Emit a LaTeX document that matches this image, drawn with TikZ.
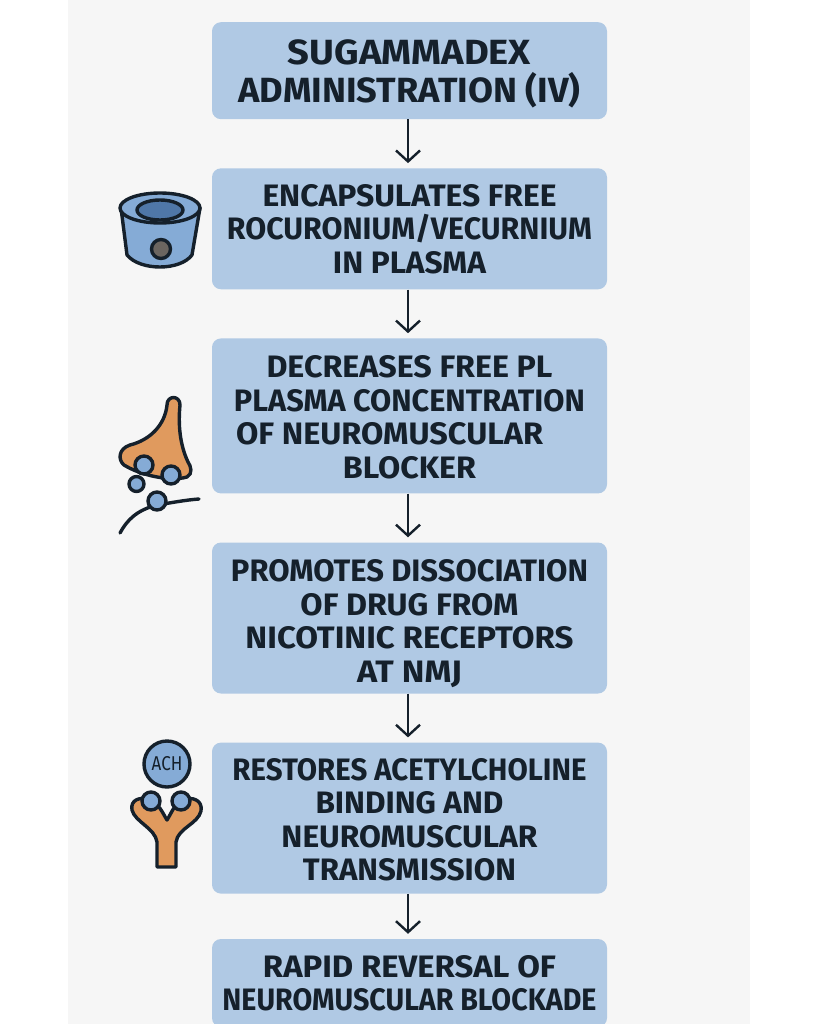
\documentclass[tikz,border=0pt]{standalone}
\usepackage{fontspec}
\setmainfont{Fira Sans}
\usetikzlibrary{positioning,arrows.meta}

\definecolor{panelgray}{HTML}{F6F6F6}
\definecolor{boxblue}{HTML}{B0C9E4}
\definecolor{inkdark}{HTML}{15202B}
\definecolor{iconblue}{HTML}{85ABD6}
\definecolor{deepblue}{HTML}{4F77A8}
\definecolor{iconorange}{HTML}{E09A5E}
\definecolor{pitgray}{HTML}{6B6560}

\newcommand{\stepline}[2]{\resizebox{#1pt}{\height}{#2}}

\begin{document}
\begin{tikzpicture}[x=1pt,y=-1pt]
      \tikzset{
        node distance=48.7pt,
        stepbox/.style={rectangle,rounded corners=9pt,fill=boxblue,text=inkdark,
          minimum width=395pt,inner sep=0pt,align=center,
          font=\fontsize{31}{33.5}\selectfont\bfseries},
        flow/.style={draw=inkdark,line width=2.4pt,shorten >=5pt,
          -{Straight Barb[length=11pt,width=24pt,line width=2.4pt]}},
        icon/.style={draw=inkdark,line width=3.4pt,line join=round,line cap=round}
      }

      \useasboundingbox (0,0) rectangle (819,1024);
      \clip (0,0) rectangle (819,1024);
      \fill[white] (0,0) rectangle (819,1024);
      \fill[panelgray] (68,0) rectangle (750,1024);

      \node[stepbox,minimum height=97pt,anchor=north,font=\fontsize{35}{38}\selectfont\bfseries] (admin) at (409.5,22)
        {\rule{0pt}{31pt}\stepline{243}{SUGAMMADEX}\\\stepline{342}{ADMINISTRATION (IV)}};
      \node[stepbox,minimum height=121pt,below=of admin] (encaps)
        {\stepline{294}{ENCAPSULATES FREE}\\\stepline{365}{ROCURONIUM/VECURNIUM}\\\stepline{153}{IN PLASMA}};
      \node[stepbox,minimum height=155pt,below=of encaps] (plasma)
        {\rule{0pt}{25pt}\stepline{286}{DECREASES FREE PL}\\\stepline{351}{PLASMA CONCENTRATION}\\\stepline{307}{OF NEUROMUSCULAR}\hspace*{40pt}\mbox{}\\\stepline{133}{BLOCKER}};
      \node[stepbox,minimum height=151pt,below=of plasma] (dissoc)
        {\rule{0pt}{33pt}\stepline{357}{PROMOTES DISSOCIATION}\\\stepline{218}{OF DRUG FROM}\\\stepline{328}{NICOTINIC RECEPTORS}\\\stepline{105}{AT NMJ}};
      \node[stepbox,minimum height=151pt,below=of dissoc] (restore)
        {\rule{0pt}{25pt}\stepline{354}{RESTORES ACETYLCHOLINE}\\\stepline{188}{BINDING AND}\\\stepline{256}{NEUROMUSCULAR}\\\stepline{213}{TRANSMISSION}};
      \node[stepbox,minimum height=88pt,below=45pt of restore] (reversal)
        {\stepline{293}{RAPID REVERSAL OF}\\\stepline{374}{NEUROMUSCULAR BLOCKADE}};

      \draw[flow] ([xshift=-1.5pt]admin.south) -- ([xshift=-1.5pt]encaps.north);
      \draw[flow] ([xshift=-1.5pt]encaps.south) -- ([xshift=-1.5pt]plasma.north);
      \draw[flow] ([xshift=-1.5pt]plasma.south) -- ([xshift=-1.5pt]dissoc.north);
      \draw[flow] ([xshift=-1.5pt]dissoc.south) -- ([xshift=-1.5pt]restore.north);
      \draw[flow] ([xshift=-1.5pt]restore.south) -- ([xshift=-1.5pt]reversal.north);

      % cyclodextrin
      \draw[icon,fill=iconblue] (121,208) -- (127,255) .. controls (140,271) and (180,271) .. (192,255) -- (200,208) -- cycle;
      \draw[icon,fill=iconblue] (160,208) ellipse (40pt and 15pt);
      \draw[icon,fill=deepblue] (160,210) ellipse (23pt and 10pt);
      \draw[icon,fill=pitgray] (161,249) circle (9.5pt);

      % blocker on the receptor
      \draw[icon,fill=iconorange] (180,405) .. controls (180,395) and (167,395) .. (167,405)
        .. controls (165,425) and (150,440) .. (130,445)
        .. controls (118,449) and (118,460) .. (124,465)
        .. controls (140,475) and (170,482) .. (187,477)
        .. controls (193,474) and (191,466) .. (188,462)
        .. controls (180,445) and (178,425) .. (180,405) -- cycle;
      \draw[icon,fill=iconblue] (144,465) circle (9pt);
      \draw[icon,fill=iconblue] (171,475) circle (9pt);
      \draw[icon,fill=iconblue] (136.5,484) circle (7.5pt);
      \draw[icon] (120,533) .. controls (127,520) and (137,510) .. (157,505) .. controls (170,503) and (185,500) .. (199,499);
      \draw[icon,fill=iconblue] (157,501) circle (9pt);

      % acetylcholine and receptor
      \node[circle,icon,fill=iconblue,minimum size=46pt,inner sep=0pt,text=inkdark] (ach) at (167,764)
        {\fontsize{20}{20}\selectfont\scalebox{.85}[1]{ACH}};
      \draw[icon,fill=iconorange] (157,867) -- (157,842)
        .. controls (155,828) and (135,822) .. (132,810)
        .. controls (130,800) and (140,796) .. (150,800)
        .. controls (160,805) and (162,812) .. (167,820)
        .. controls (172,812) and (174,805) .. (182,800)
        .. controls (192,796) and (203,800) .. (201,811)
        .. controls (198,824) and (178,828) .. (176,842) -- (176,867) -- cycle;
      \draw[icon,fill=iconblue] (151,801) circle (9pt);
      \draw[icon,fill=iconblue] (181,801) circle (9pt);
\end{tikzpicture}
\end{document}
